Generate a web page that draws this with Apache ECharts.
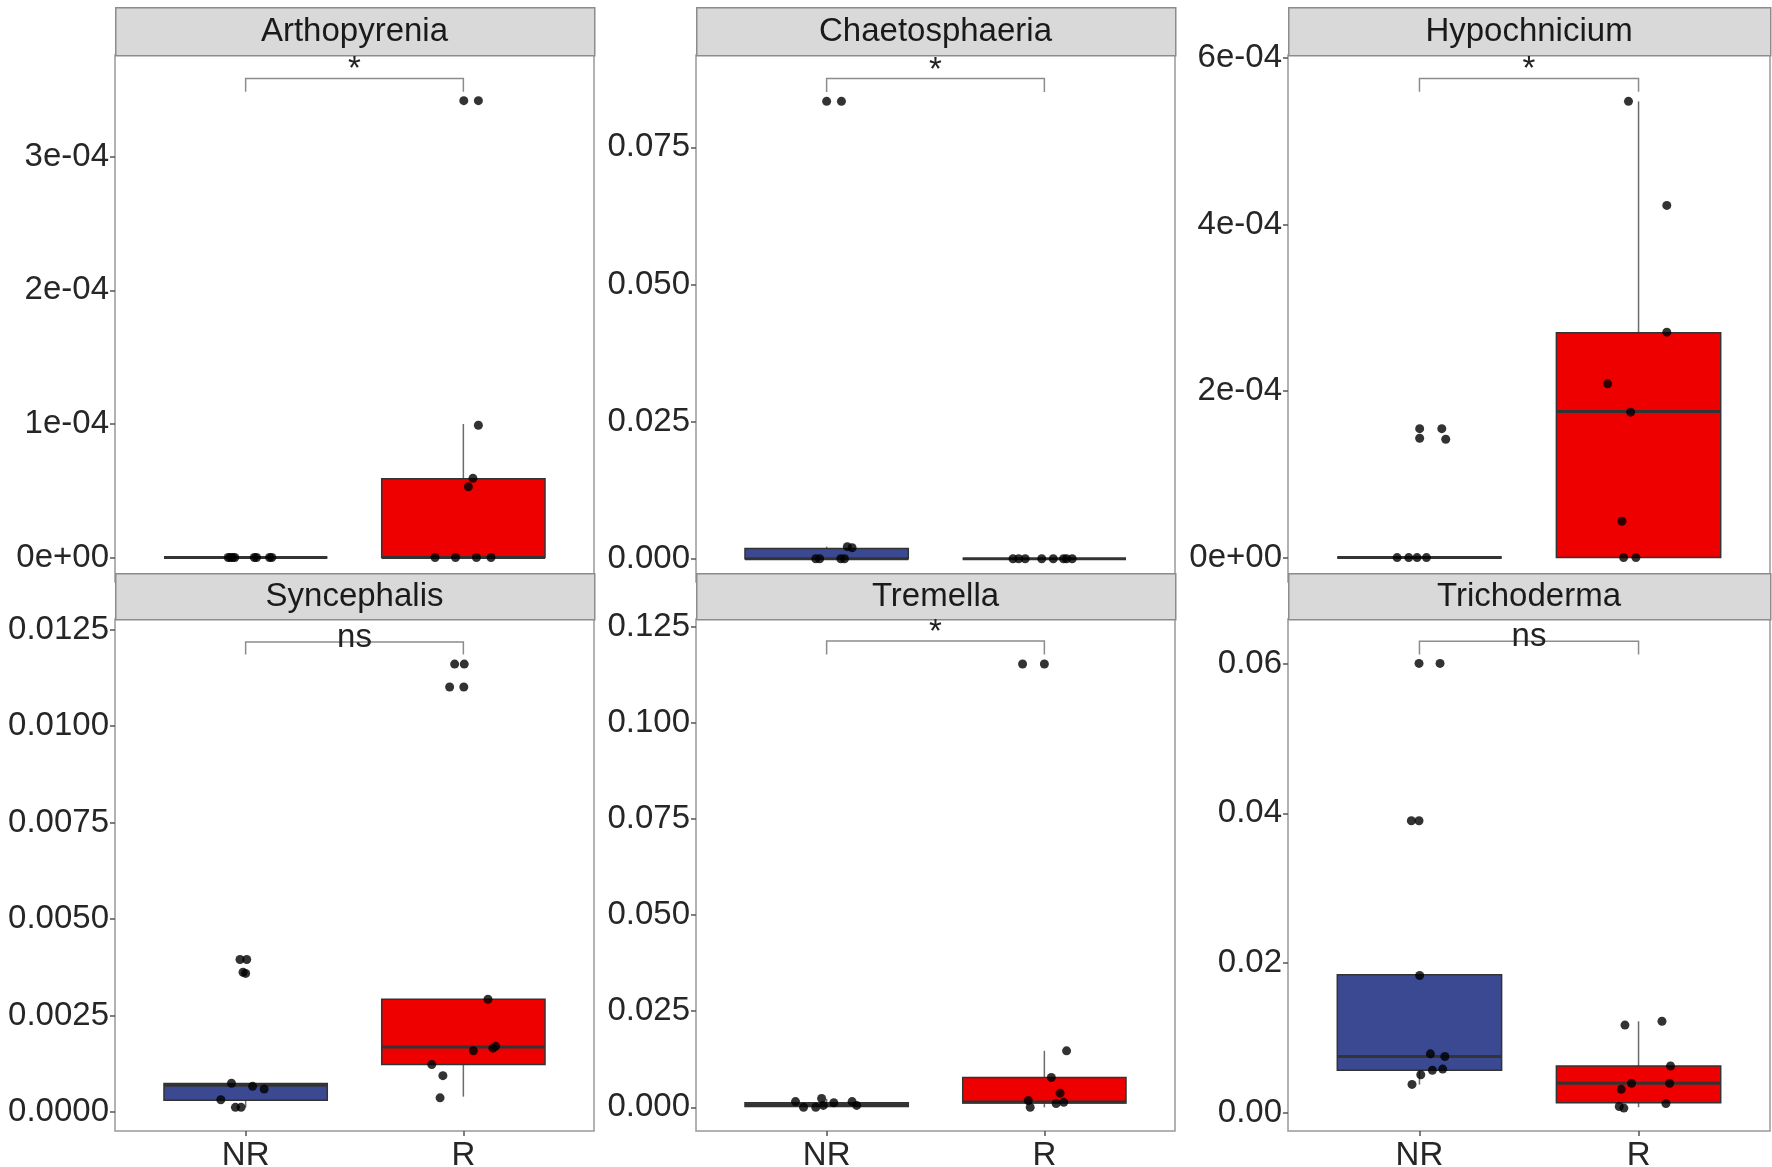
<!DOCTYPE html>
<html lang="en">
<head>
    <meta charset="UTF-8">
    <title>Genus abundance NR vs R</title>
    <script src="https://cdn.jsdelivr.net/npm/echarts@6/dist/echarts.min.js"></script>
    <style>
        body{
            margin: 0;
            background: #ffffff;
        }
        #chart{
            width: 1772px;
            height: 1167px;
        }
    </style>
</head>
<body>
<div id="chart"></div>
<script>
    // panels and groups
    var panelNames = ['Arthopyrenia', 'Chaetosphaeria', 'Hypochnicium', 'Syncephalis', 'Tremella', 'Trichoderma'];
    var groups = ['NR', 'R'];
    var groupColors = ['#3B4992', '#EE0000'];

    // y ranges and tick labels per panel
    var yMin = [-1.83e-5, -0.00425, -2.93e-5, -0.000494, -0.00615, -0.0024];
    var yMax = [3.762e-4, 0.09185, 6.037e-4, 0.012777, 0.12697, 0.06593];
    var yTickValues = [
        [0, 1e-4, 2e-4, 3e-4],
        [0, 0.025, 0.05, 0.075],
        [0, 2e-4, 4e-4, 6e-4],
        [0, 0.0025, 0.005, 0.0075, 0.01, 0.0125],
        [0, 0.025, 0.05, 0.075, 0.1, 0.125],
        [0, 0.02, 0.04, 0.06]
    ];
    var yTickLabels = [
        ['0e+00', '1e-04', '2e-04', '3e-04'],
        ['0.000', '0.025', '0.050', '0.075'],
        ['0e+00', '2e-04', '4e-04', '6e-04'],
        ['0.0000', '0.0025', '0.0050', '0.0075', '0.0100', '0.0125'],
        ['0.000', '0.025', '0.050', '0.075', '0.100', '0.125'],
        ['0.00', '0.02', '0.04', '0.06']
    ];

    // box stats: [lower whisker, q1, median, q3, upper whisker]
    var boxNR = [
        [0, 0, 0, 0, 0],
        [0, 0, 0, 0.00188, 0.0022],
        [0, 0, 0, 0, 0],
        [0.00012, 0.0003, 0.00069, 0.00074, 0.00074],
        [0, 0.0002, 0.0006, 0.0012, 0.0022],
        [0.0038, 0.00571, 0.00755, 0.01846, 0.01846]
    ];
    var boxR = [
        [0, 0, 0, 5.9e-5, 1.0e-4],
        [0, 0, 0, 0, 0],
        [0, 0, 1.756e-4, 2.70e-4, 5.48e-4],
        [0.000396, 0.001228, 0.001684, 0.002922, 0.002922],
        [0, 0.0011, 0.0014, 0.00775, 0.0147],
        [0.00077, 0.00138, 0.00398, 0.00627, 0.01224]
    ];

    // jittered points [x position, value]
    var ptsNR = [
        [[0.92, 0], [0.93, 0], [0.94, 0], [0.95, 0], [1.04, 0], [1.05, 0], [1.11, 0], [1.12, 0]],
        [[1.0, 0.0834], [1.068, 0.0834], [1.095, 0.0022], [1.117, 0.0020], [0.95, 0], [0.968, 0], [1.065, 0], [1.082, 0]],
        [[1.001, 1.549e-4], [1.102, 1.549e-4], [1.001, 1.434e-4], [1.12, 1.421e-4], [0.898, 0], [0.951, 0], [0.989, 0], [1.032, 0]],
        [[0.974, 0.00395], [1.005, 0.00395], [0.988, 0.00362], [1.0, 0.00359], [0.935, 0.000743], [1.032, 0.000664],
         [1.085, 0.000594], [0.886, 0.000317], [0.953, 0.000119], [0.979, 0.000119]],
        [[0.857, 0.00149], [0.894, 0], [0.95, 0], [0.977, 0.00229], [0.985, 0.0005], [1.033, 0.0012], [1.117, 0.00149], [1.138, 0.0005]],
        [[0.998, 0.060], [1.094, 0.060], [0.963, 0.039], [0.998, 0.039], [1.001, 0.01835], [1.05, 0.0079], [1.116, 0.00754],
         [1.059, 0.00571], [1.106, 0.00586], [1.006, 0.0051], [0.966, 0.00382]]
    ];
    var ptsR = [
        [[2.002, 3.42e-4], [2.069, 3.42e-4], [2.069, 0.99e-4], [2.044, 0.593e-4], [2.023, 0.53e-4], [1.870, 0], [1.964, 0], [2.060, 0], [2.127, 0]],
        [[1.856, 0], [1.882, 0], [1.912, 0], [1.988, 0], [2.041, 0], [2.088, 0], [2.102, 0], [2.128, 0]],
        [[1.954, 5.48e-4], [2.129, 4.23e-4], [2.129, 2.708e-4], [1.859, 2.087e-4], [1.964, 1.747e-4], [1.924, 0.437e-4], [1.932, 0], [1.988, 0]],
        [[1.96, 0.011608], [2.004, 0.011608], [1.937, 0.011014], [2.002, 0.011014], [2.113, 0.002922], [2.148, 0.001704],
         [2.136, 0.001654], [2.046, 0.001585], [1.855, 0.001228], [1.906, 0.000941], [1.893, 0.000366]],
        [[1.9, 0.11526], [2.0, 0.11526], [2.102, 0.0147], [2.032, 0.00775], [2.072, 0.00368], [1.926, 0.00179], [1.935, 0],
         [2.054, 0.001], [2.089, 0.0013]],
        [[1.938, 0.01173], [2.107, 0.01224], [2.146, 0.00627], [1.968, 0.00398], [2.142, 0.00398], [1.921, 0.00316],
         [2.125, 0.00127], [1.912, 0.00087], [1.933, 0.00066]]
    ];

    // significance brackets
    var bracketY = [3.587e-4, 0.08757, 5.756e-4, 0.012183, 0.12122, 0.06296];
    var bracketTip = [3.487e-4, 0.08512, 5.595e-4, 0.011856, 0.11774, 0.06118];
    var sigLabels = ['*', '*', '*', 'ns', '*', 'ns'];

    // layout (px)
    var colLeft = [115, 696, 1288];
    var colWidth = [479, 479, 482];
    var rowTop = [55, 619];
    var rowHeight = [527, 512];
    var stripTop = [7, 573];

    var FONT = "'Liberation Sans', Arial, sans-serif";
    var FS = 33;
    var chart = echarts.init(document.getElementById('chart'));

    var grids = [], xAxes = [], yAxes = [], series = [], graphics = [];

    panelNames.forEach(function(name, i){
        var col = i % 3, row = Math.floor(i / 3);
        grids.push({
            left: colLeft[col], top: rowTop[row], width: colWidth[col], height: rowHeight[row],
            show: true, backgroundColor: '#fff', borderColor: '#999', borderWidth: 1.5,
            containLabel: false, outerBoundsMode: 'none'
        });
        xAxes.push({
            type: 'value', gridIndex: i, min: 0.4, max: 2.6, position: 'bottom',
            splitLine: {show: false}, axisLine: {show: false, onZero: false},
            axisTick: {show: row === 1, length: 5, customValues: [1, 2], lineStyle: {color: '#555', width: 1.5}},
            axisLabel: {
                show: row === 1, customValues: [1, 2], fontSize: FS, color: '#262626', margin: 8, fontFamily: FONT,
                formatter: function(v){ return groups[Math.round(v) - 1]; }
            }
        });
        yAxes.push({
            type: 'value', gridIndex: i, min: yMin[i], max: yMax[i],
            splitLine: {show: false}, axisLine: {show: false, onZero: false},
            axisTick: {show: true, length: 5, customValues: yTickValues[i], lineStyle: {color: '#555', width: 1.5}},
            axisLabel: {
                customValues: yTickValues[i], fontSize: FS, color: '#262626', margin: 6, fontFamily: FONT,
                formatter: function(v){
                    var vals = yTickValues[i];
                    for (var k = 0; k < vals.length; k++) {
                        if (Math.abs(vals[k] - v) < 1e-9) return yTickLabels[i][k];
                    }
                    return '';
                }
            }
        });

        // boxes
        series.push({
            type: 'custom', xAxisIndex: i, yAxisIndex: i, z: 2,
            data: [[1].concat(boxNR[i], [0]), [2].concat(boxR[i], [1])],
            encode: {x: 0, y: [1, 2, 3, 4, 5]},
            renderItem: function(params, api){
                var x = api.value(0);
                var lo = api.value(1), q1 = api.value(2), med = api.value(3), q3 = api.value(4), hi = api.value(5);
                var g = api.value(6);
                var tl = api.coord([x - 0.375, q3]);
                var br = api.coord([x + 0.375, q1]);
                var pLo = api.coord([x, lo]);
                var pHi = api.coord([x, hi]);
                var pMed = api.coord([x, med]);
                return {
                    type: 'group',
                    children: [
                        {type: 'line', shape: {x1: pLo[0], y1: pLo[1], x2: pLo[0], y2: br[1]}, style: {stroke: '#6b6b6b', lineWidth: 1.5}},
                        {type: 'line', shape: {x1: pHi[0], y1: pHi[1], x2: pHi[0], y2: tl[1]}, style: {stroke: '#6b6b6b', lineWidth: 1.5}},
                        {type: 'rect', shape: {x: tl[0], y: tl[1], width: br[0] - tl[0], height: Math.max(br[1] - tl[1], 0)},
                         style: {fill: groupColors[g], stroke: '#333', lineWidth: 1.5}},
                        {type: 'line', shape: {x1: tl[0], y1: pMed[1], x2: br[0], y2: pMed[1]}, style: {stroke: '#333', lineWidth: 3}}
                    ]
                };
            }
        });

        // points
        series.push({
            type: 'scatter', xAxisIndex: i, yAxisIndex: i, z: 3,
            symbolSize: 9, itemStyle: {color: '#000'},
            data: ptsNR[i].concat(ptsR[i])
        });

        // bracket
        series.push({
            type: 'custom', xAxisIndex: i, yAxisIndex: i, z: 4,
            data: [[1, 2, bracketY[i], bracketTip[i]]],
            encode: {x: [0, 1], y: [2, 3]},
            renderItem: function(params, api){
                var a = api.coord([api.value(0), api.value(2)]);
                var b = api.coord([api.value(1), api.value(2)]);
                var tip = api.coord([api.value(0), api.value(3)]);
                var lift = sigLabels[i] === '*' ? 8 : 4;
                return {
                    type: 'group',
                    children: [
                        {type: 'polyline', shape: {points: [[a[0], tip[1]], a, b, [b[0], tip[1]]]},
                         style: {stroke: '#8c8c8c', lineWidth: 1.5, fill: null}},
                        {type: 'text', style: {text: sigLabels[i], x: (a[0] + b[0]) / 2, y: a[1] - lift,
                         align: 'center', verticalAlign: 'middle', fontSize: FS, fill: '#222', fontFamily: FONT}}
                    ]
                };
            }
        });

        // facet strip
        graphics.push({
            type: 'rect', left: colLeft[col], top: stripTop[row],
            shape: {width: colWidth[col], height: rowTop[row] - stripTop[row]},
            style: {fill: '#D9D9D9', stroke: '#8c8c8c', lineWidth: 1.5}
        });
        graphics.push({
            type: 'text', x: colLeft[col] + colWidth[col] / 2, y: (stripTop[row] + rowTop[row]) / 2 + 1,
            style: {text: name, align: 'center', verticalAlign: 'middle', fontSize: FS, fill: '#1a1a1a', fontFamily: FONT}
        });
    });

    chart.setOption({
        animation: false,
        backgroundColor: '#fff',
        grid: grids,
        xAxis: xAxes,
        yAxis: yAxes,
        series: series,
        graphic: {elements: graphics}
    });
</script>
</body>
</html>
